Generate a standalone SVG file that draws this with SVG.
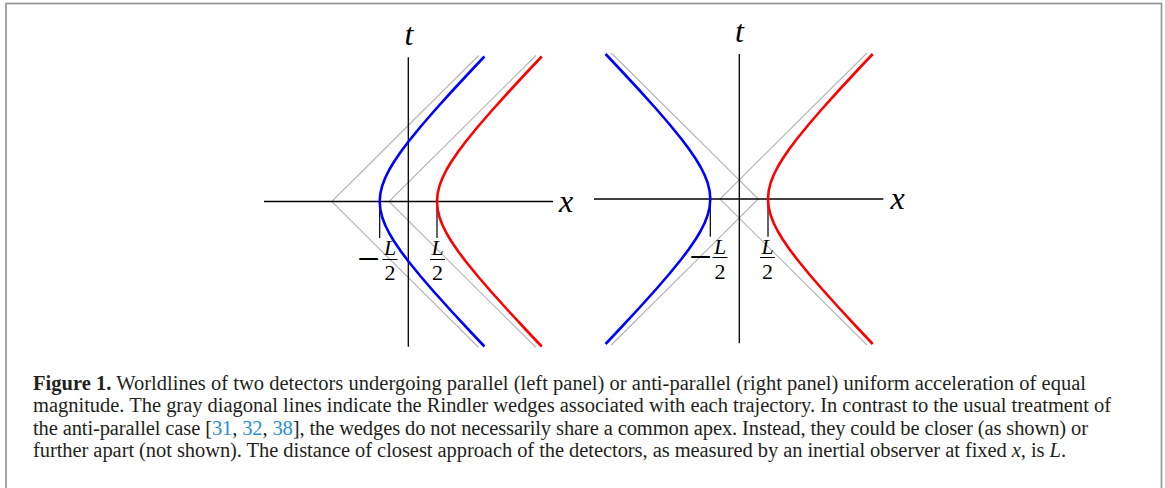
<svg xmlns="http://www.w3.org/2000/svg" xmlns:xlink="http://www.w3.org/1999/xlink" width="1165" height="488" viewBox="0 0 1165 488">
<style>
.axis{stroke:#000;stroke-width:1.3;fill:none}
.tick{stroke:#000;stroke-width:1.2;fill:none}
.wedge{stroke:#b4b4b4;stroke-width:1.1;fill:none}
.blue{stroke:#0000ff;stroke-width:2.6;fill:none;stroke-linejoin:round}
.red{stroke:#ff0000;stroke-width:2.6;fill:none;stroke-linejoin:round}
.var{font-family:"Liberation Serif",serif;font-style:italic;font-size:32px;fill:#000}
.frac{font-family:"Liberation Serif",serif;font-size:22px;fill:#000;text-anchor:middle}
.fracL{font-style:italic}
.minus{font-family:"Liberation Serif",serif;font-size:40px;fill:#000;text-anchor:middle}
.bar{stroke:#000;stroke-width:1}
.cap{font-family:"Liberation Serif",serif;font-size:20.5px;fill:#231f20}
.ref{fill:#2a8fcc}
</style>
<defs>
<path id="hyp" d="M152.74,-145 L138.58,-130 L120.02,-110 L102,-90 L89.05,-75 L76.84,-60 L69.31,-50 L62.48,-40 L57.69,-32 L53.67,-24 L50.6,-16 L48.66,-8 L48,0 L48.66,8 L50.6,16 L53.67,24 L57.69,32 L62.48,40 L69.31,50 L76.84,60 L89.05,75 L102,90 L120.02,110 L138.58,130 L152.74,145"/>
<path id="wedge" d="M147,-146 L0,0 L147,146"/>
</defs>
<rect x="6" y="3.5" width="1155.5" height="500" fill="#fff" stroke="#8f8f8f" stroke-width="1.6"/>

<g id="left-panel">
<g id="left-wedges">
<use xlink:href="#wedge" class="wedge" transform="translate(331.7,201.5)"/>
<use xlink:href="#wedge" class="wedge" transform="translate(389,201.5)"/>
</g>
<g id="left-axes">
<line class="axis" x1="264" y1="201.5" x2="553" y2="201.5"/>
<line class="axis" x1="408.3" y1="57.3" x2="408.3" y2="346.7"/>
<line class="tick" x1="379.7" y1="201.5" x2="379.7" y2="238"/>
<line class="tick" x1="437" y1="201.5" x2="437" y2="238"/>
</g>
<g id="left-blue"><use xlink:href="#hyp" class="blue" transform="translate(331.7,201.5)"/></g>
<g id="left-red"><use xlink:href="#hyp" class="red" transform="translate(389,201.5)"/></g>
<g id="left-labels">
<text class="var" x="409" y="45" text-anchor="middle">t</text>
<text class="var" x="559" y="211.5">x</text>
<text class="minus" x="368.5" y="271.5">−</text>
<text class="frac fracL" x="390" y="255">L</text>
<line class="bar" x1="382.5" y1="259.5" x2="397.5" y2="259.5"/>
<text class="frac" x="390" y="280">2</text>
<text class="frac fracL" x="437.5" y="255">L</text>
<line class="bar" x1="430" y1="259.5" x2="445" y2="259.5"/>
<text class="frac" x="437.5" y="280">2</text>
</g>
</g>

<g id="right-panel">
<g id="right-wedges">
<use xlink:href="#wedge" class="wedge" transform="translate(758.3,199) scale(-1,1)"/>
<use xlink:href="#wedge" class="wedge" transform="translate(720,199)"/>
</g>
<g id="right-axes">
<line class="axis" x1="594" y1="199" x2="883.3" y2="199"/>
<line class="axis" x1="739.3" y1="54" x2="739.3" y2="343.3"/>
<line class="tick" x1="710.3" y1="199" x2="710.3" y2="236.7"/>
<line class="tick" x1="768" y1="199" x2="768" y2="236.7"/>
</g>
<g id="right-blue"><use xlink:href="#hyp" class="blue" transform="translate(758.3,199) scale(-1,1)"/></g>
<g id="right-red"><use xlink:href="#hyp" class="red" transform="translate(720,199)"/></g>
<g id="right-labels">
<text class="var" x="739.5" y="42" text-anchor="middle">t</text>
<text class="var" x="890.5" y="209">x</text>
<text class="minus" x="700.5" y="270">−</text>
<text class="frac fracL" x="720" y="253.5">L</text>
<line class="bar" x1="712.5" y1="257.5" x2="727.5" y2="257.5"/>
<text class="frac" x="720" y="278.5">2</text>
<text class="frac fracL" x="767.5" y="253.5">L</text>
<line class="bar" x1="760" y1="257.5" x2="775" y2="257.5"/>
<text class="frac" x="767.5" y="278.5">2</text>
</g>
</g>

<g id="caption">
<text class="cap" x="33" y="390" textLength="1053" lengthAdjust="spacing"><tspan font-weight="bold">Figure 1.</tspan> Worldlines of two detectors undergoing parallel (left panel) or anti-parallel (right panel) uniform acceleration of equal</text>
<text class="cap" x="33" y="412.3" textLength="1078" lengthAdjust="spacing">magnitude. The gray diagonal lines indicate the Rindler wedges associated with each trajectory. In contrast to the usual treatment of</text>
<text class="cap" x="33" y="434.6" textLength="1055" lengthAdjust="spacing">the anti-parallel case [<tspan class="ref">31</tspan>, <tspan class="ref">32</tspan>, <tspan class="ref">38</tspan>], the wedges do not necessarily share a common apex. Instead, they could be closer (as shown) or</text>
<text class="cap" x="33" y="456.9" textLength="1033" lengthAdjust="spacing">further apart (not shown). The distance of closest approach of the detectors, as measured by an inertial observer at fixed <tspan font-style="italic">x</tspan>, is <tspan font-style="italic">L</tspan>.</text>
</g>
</svg>
